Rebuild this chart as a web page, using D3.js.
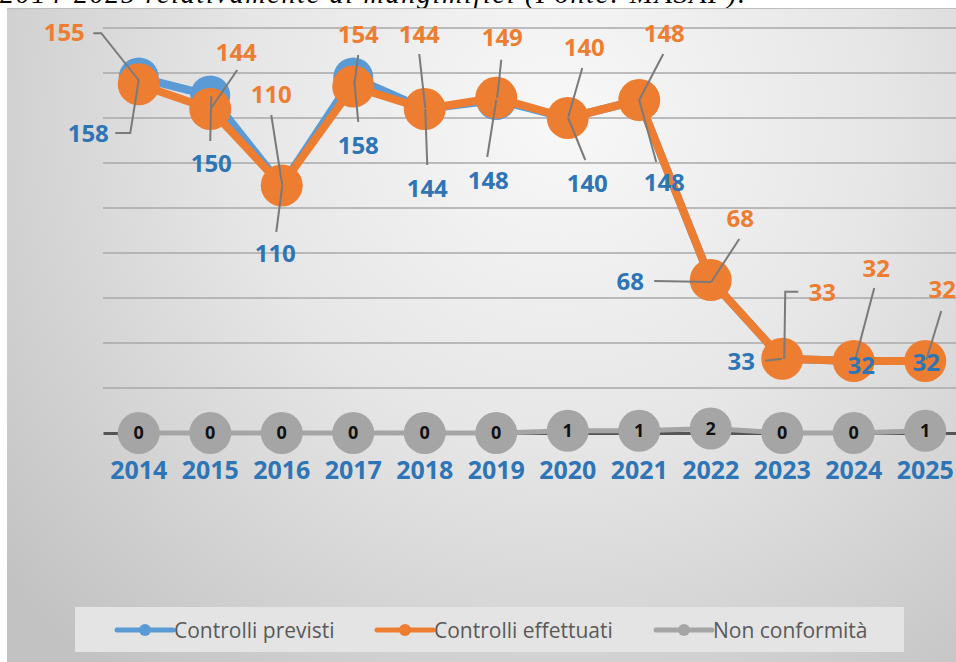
<!DOCTYPE html>
<html>
<head>
<meta charset="utf-8">
<script src="https://cdn.jsdelivr.net/npm/d3@7/dist/d3.min.js"></script>
<style>
  html, body { margin: 0; padding: 0; background: #fff; }
  svg { display: block; }
</style>
</head>
<body>
<svg id="chart" width="956" height="662"></svg>
<script>
// data
const years = [2014, 2015, 2016, 2017, 2018, 2019, 2020, 2021, 2022, 2023, 2024, 2025];
const previsti = [158, 150, 110, 158, 144, 148, 140, 148, 68, 33, 32, 32];
const effettuati = [155, 144, 110, 154, 144, 149, 140, 148, 68, 33, 32, 32];
const nonConformita = [0, 0, 0, 0, 0, 0, 1, 1, 2, 0, 0, 1];
const seriesNames = ["Controlli previsti", "Controlli effettuati", "Non conformità"];
const caption = "2014-2025 relativamente ai mangimifici (Fonte: MASAF).";

// label placement (offsets from the point, in px) - layout only
const orangeLabelPos = [
  { t: [-74.5, -52], l: [[-45.5, -51], [-37.5, -51], [0, -4]] },
  { t: [26, -57], l: [[27, -39], [1, -1]] },
  { t: [-10.5, -91.5], l: [[-10.5, -70.5], [0.5, 0]] },
  { t: [5, -52.5], l: [[5, -31.5], [1, -1.5]] },
  { t: [-5.5, -75], l: [[-5.5, -55], [0.5, -1]] },
  { t: [6, -60], l: [[5, -38], [1, 0]] },
  { t: [16.5, -71], l: [[14.5, -50], [0.5, -1]] },
  { t: [25, -67], l: [[24, -46], [0, 0]] },
  { t: [29.5, -62], l: [[28.5, -41], [0.5, 2]] },
  { t: [40, -66], l: [[16, -67], [3, -67], [2, 0]] },
  { t: [22.5, -93], l: [[20.5, -73], [1.5, -1]] },
  { t: [17, -72], l: [[16, -50], [1, -1]] }
];
const blueLabelPos = [
  { t: [-50.5, 55.5], l: [[-23.5, 55.5], [-8.5, 55.5], [0, 2.5]] },
  { t: [1, 67.5], l: [[0, 45.5], [1, 0.5]] },
  { t: [-6.5, 67.5], l: [[-5.5, 46.5], [0.5, 0.5]] },
  { t: [5, 67.5], l: [[5, 44.5], [1, 2.5]] },
  { t: [2.5, 79], l: [[2.5, 56], [0.5, 0]] },
  { t: [-8, 80], l: [[-9, 57], [0, 0]] },
  { t: [19.5, 65], l: [[17.5, 42], [0.5, 0]] },
  { t: [25, 82], l: [[17, 62], [0, 0]] },
  { t: [-80.5, 1], l: [[-56.5, 1], [0.5, 2]] },
  { t: [-41, 3], l: [[-17, 2], [0, 0]] },
  { t: [7.5, 4], l: null },
  { t: [1, 1], l: null }
];

const W = 956, H = 662;
const svg = d3.select('#chart');

// background gradient like the excel chart area
const defs = svg.append('defs');
const grad = defs.append('radialGradient')
  .attr('id', 'bg')
  .attr('gradientUnits', 'userSpaceOnUse')
  .attr('cx', 560).attr('cy', 120).attr('r', 720);
grad.append('stop').attr('offset', '0%').attr('stop-color', '#f8f8f8');
grad.append('stop').attr('offset', '45%').attr('stop-color', '#e6e6e6');
grad.append('stop').attr('offset', '100%').attr('stop-color', '#c2c2c2');

// caption text, mostly cut off at the top (as in the source screenshot)
svg.append('text')
  .attr('x', 0).attr('y', 3)
  .attr('font-family', '"Liberation Serif", serif')
  .attr('font-style', 'italic')
  .attr('font-size', 28)
  .attr('textLength', 745)
  .attr('lengthAdjust', 'spacing')
  .attr('fill', '#000')
  .text(caption);

svg.append('rect')
  .attr('x', 7).attr('y', 8).attr('width', W - 7).attr('height', H - 8)
  .attr('fill', 'url(#bg)');
svg.append('line')
  .attr('x1', 7).attr('x2', W).attr('y1', 8.5).attr('y2', 8.5)
  .attr('stroke', '#bdbdbd').attr('stroke-width', 1);

// scales
const x = d3.scaleBand().domain(years).range([103, 961]);
const cx = d => x(d) + x.bandwidth() / 2;
const y = d3.scaleLinear().domain([0, 180]).range([433, 28]);

// gridlines
const grid = svg.append('g');
grid.selectAll('line')
  .data(y.ticks(9).filter(d => d > 0))
  .join('line')
  .attr('x1', 103).attr('x2', W)
  .attr('y1', d => y(d)).attr('y2', d => y(d))
  .attr('stroke', '#a9a9a9').attr('stroke-width', 1.5);

// category axis
const xAxis = svg.append('g')
  .attr('transform', `translate(0,${y(0)})`)
  .call(d3.axisBottom(x).tickSize(0).tickPadding(24));
xAxis.select('.domain').attr('stroke', '#555').attr('stroke-width', 3);
xAxis.selectAll('text')
  .attr('font-family', '"Open Sans", sans-serif')
  .attr('font-weight', 'bold')
  .attr('font-size', 25)
  .attr('fill', '#2E75B6')
  .attr('dy', '0.35em')
  .attr('y', 37);

const line = d3.line().x((d, i) => cx(years[i])).y(d => y(d));

function drawSeries(values, color, width, r) {
  const g = svg.append('g');
  g.append('path')
    .datum(values)
    .attr('d', line)
    .attr('fill', 'none')
    .attr('stroke', color)
    .attr('stroke-width', width)
    .attr('stroke-linejoin', 'round');
  g.selectAll('circle')
    .data(values)
    .join('circle')
    .attr('cx', (d, i) => cx(years[i]))
    .attr('cy', d => y(d))
    .attr('r', r)
    .attr('fill', color);
  return g;
}

// non conformità series with values inside markers
const gGray = drawSeries(nonConformita, '#a5a5a5', 5, 21);
gGray.selectAll('text')
  .data(nonConformita)
  .join('text')
  .attr('x', (d, i) => cx(years[i]))
  .attr('y', d => y(d))
  .attr('dy', '0.36em')
  .attr('text-anchor', 'middle')
  .attr('font-family', '"Open Sans", sans-serif')
  .attr('font-weight', 'bold')
  .attr('font-size', 18)
  .attr('fill', '#111')
  .text(d => d);

drawSeries(previsti, '#5B9BD5', 8, 20);
drawSeries(effettuati, '#ED7D31', 8, 21);

// leader lines + data labels
function drawLabels(values, pos, color) {
  const g = svg.append('g');
  values.forEach((v, i) => {
    const px = cx(years[i]), py = y(v);
    const p = pos[i];
    if (p.l) {
      g.append('path')
        .attr('d', d3.line()(p.l.map(o => [px + o[0], py + o[1]])))
        .attr('fill', 'none')
        .attr('stroke', '#7a7a7a')
        .attr('stroke-width', 2);
    }
  });
  values.forEach((v, i) => {
    const px = cx(years[i]), py = y(v);
    const p = pos[i];
    g.append('text')
      .attr('x', px + p.t[0])
      .attr('y', py + p.t[1])
      .attr('dy', '0.36em')
      .attr('text-anchor', 'middle')
      .attr('font-family', '"Open Sans", sans-serif')
      .attr('font-weight', 'bold')
      .attr('font-size', 24)
      .attr('fill', color)
      .text(v);
  });
}
drawLabels(effettuati, orangeLabelPos, '#ED7D31');
drawLabels(previsti, blueLabelPos, '#2E75B6');

// legend
const legend = svg.append('g');
legend.append('rect')
  .attr('x', 75).attr('y', 607).attr('width', 829).attr('height', 45)
  .attr('fill', '#e4e4e4');
const legColors = ['#5B9BD5', '#ED7D31', '#a5a5a5'];
const legX = [117, 377, 656];
seriesNames.forEach((name, i) => {
  const lg = legend.append('g').attr('transform', `translate(${legX[i]},630)`);
  lg.append('line').attr('x1', 0).attr('x2', 56).attr('y1', 0).attr('y2', 0)
    .attr('stroke', legColors[i]).attr('stroke-width', 5).attr('stroke-linecap', 'round');
  lg.append('circle').attr('cx', 28).attr('cy', 0).attr('r', 6).attr('fill', legColors[i]);
  lg.append('text')
    .attr('x', 57).attr('y', 0).attr('dy', '0.36em')
    .attr('font-family', '"Open Sans", sans-serif')
    .attr('font-size', 21)
    .attr('fill', '#595959')
    .text(name);
});
</script>
</body>
</html>
